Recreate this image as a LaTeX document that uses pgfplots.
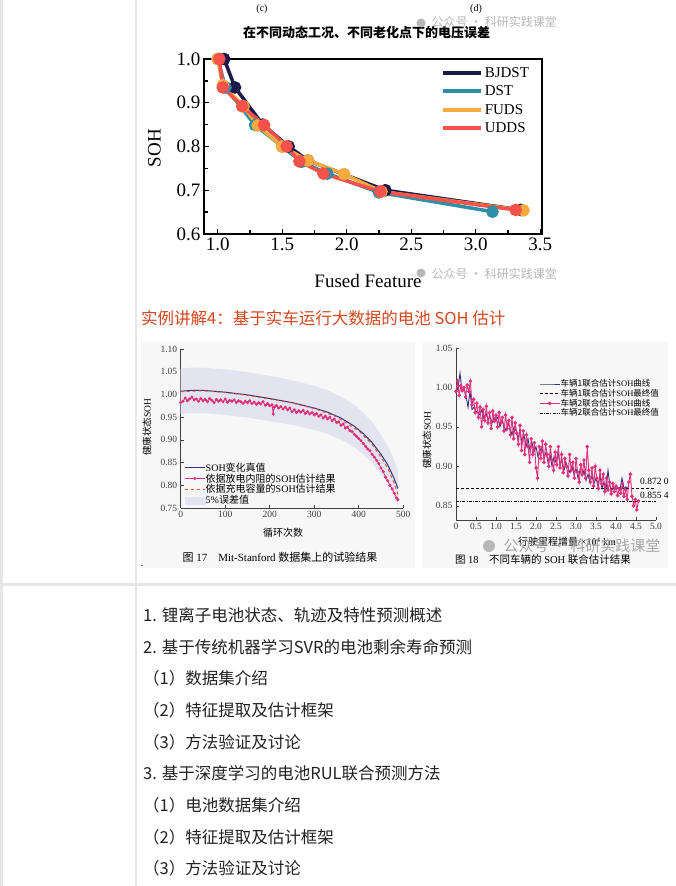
\documentclass[border=0pt]{standalone}
\usepackage{fontspec}
\setmainfont{Liberation Serif}
\newfontfamily\cjk{Noto Sans CJK SC}
\usepackage{pgfplots}
\pgfplotsset{compat=1.18}
\newcommand{\fs}[1]{\fontsize{#1}{#1}\selectfont}
\definecolor{bjdst}{HTML}{1D1A4A}
\definecolor{dst}{HTML}{2E8FA8}
\definecolor{fuds}{HTML}{F7AA3E}
\definecolor{udds}{HTML}{F4524B}
\definecolor{navyc}{HTML}{33337F}
\definecolor{pinkc}{HTML}{E0307A}
\definecolor{redd}{HTML}{E8553A}
\definecolor{bandc}{HTML}{E4E4F0}
\definecolor{tline}{HTML}{E6E6E6}
\definecolor{titlered}{HTML}{D4481F}
\definecolor{wmc}{HTML}{B8B8B8}
\definecolor{bodyc}{HTML}{222222}
\begin{document}
\begin{tikzpicture}[x=1pt,y=1pt]
\fill[white] (0,0) rectangle (676,-886);
\path[use as bounding box] (0,0) rectangle (676,-886);
% table lines
\fill[tline] (0,0) rectangle (2.5,-886);
\fill[tline] (134.5,0) rectangle (137,-886);
\fill[tline] (0,-582.5) rectangle (676,-585.5);
% image backgrounds
\fill[black!3] (141,-342) rectangle (415,-568);
\fill[black!3] (422,-342) rectangle (668,-568);
% top fragment
\node[font=\fs{10}] at (262,-9) {(c)};
\node[font=\fs{10}] at (476,-9) {(d)};
\node[font={\fs{13}\cjk\bfseries}] at (366.5,-33) {在不同动态工况、不同老化点下的电压误差};
% watermarks
\fill[wmc] (421,-23) circle (4.5);
\node[anchor=west, text=wmc, font={\fs{12}\cjk}] at (428,-22) {公众号 · 科研实践课堂};
\fill[wmc] (421,-273) circle (4.5);
\node[anchor=west, text=wmc, font={\fs{12}\cjk}] at (428,-274) {公众号 · 科研实践课堂};

% ---------------- Chart 1 ----------------
\begin{axis}[at={(204pt,-234pt)}, anchor=south west, scale only axis,
  width=338pt, height=175pt,
  xmin=0.894, xmax=3.514, ymin=0.6, ymax=1.0,
  xtick={1,1.5,2,2.5,3,3.5}, ytick={0.6,0.7,0.8,0.9,1.0},
  minor x tick num=1, minor y tick num=1,
  tick pos=left, tick align=inside,
  axis line style={line width=1.6pt},
  tick style={line width=1.3pt, black},
  major tick length=5pt, minor tick length=4pt,
  /pgf/number format/assume math mode=true,
  ticklabel style={font=\fs{19}, /pgf/number format/fixed, /pgf/number format/fixed zerofill, /pgf/number format/precision=1},
  legend style={at={(0.70,0.965)}, anchor=north west, draw=none, fill=none,
    font=\fs{15}, row sep=3pt, inner sep=0pt},
  legend cell align=left,
  legend image code/.code={\draw[#1, line width=4pt] (0pt,0pt) -- (38pt,0pt);},
]
\addplot[bjdst, line width=3.5pt, mark=*, mark size=4.5pt] coordinates {
(1.05,1.0) (1.134,0.935) (1.35,0.85) (1.55,0.80) (1.70,0.768) (2.30,0.70) (3.35,0.655)};
\addlegendentry{BJDST}
\addplot[dst, line width=3.5pt, mark=*, mark size=4.5pt] coordinates {
(1.0,1.0) (1.06,0.935) (1.29,0.849) (1.50,0.80) (1.65,0.765) (1.85,0.738) (2.25,0.695) (3.13,0.651)};
\addlegendentry{DST}
\addplot[fuds, line width=3.5pt, mark=*, mark size=4.5pt] coordinates {
(1.0,1.0) (1.04,0.94) (1.20,0.892) (1.31,0.848) (1.50,0.80) (1.70,0.768) (1.98,0.737) (2.27,0.697) (3.37,0.654)};
\addlegendentry{FUDS}
\addplot[udds, line width=3.5pt, mark=*, mark size=4.5pt] coordinates {
(1.013,1.0) (1.04,0.935) (1.19,0.892) (1.36,0.849) (1.535,0.80) (1.633,0.766) (1.82,0.738) (2.26,0.697) (3.31,0.655)};
\addlegendentry{UDDS}
\end{axis}
\node[rotate=90, font=\fs{19}] at (154.5,-148) {SOH};
\node[font=\fs{19}] at (368,-281) {Fused Feature};

% red heading
\node[anchor=west, text=titlered, font={\fs{16.5}\cjk}, inner sep=0] at (141,-318) {实例讲解4：基于实车运行大数据的电池 SOH 估计};

% ---------------- Chart 2 ----------------
\begin{axis}[at={(180.7pt,-508pt)}, anchor=south west, scale only axis,
  width=222.6pt, height=159pt,
  xmin=0, xmax=500, ymin=0.75, ymax=1.10,
  axis x line*=bottom, axis y line*=left,
  axis line style={line width=0.7pt, black!75},
  tick style={line width=0.6pt, black!75}, tick align=inside, major tick length=3pt,
  xtick={0,100,200,300,400,500},
  ytick={0.75,0.80,0.85,0.90,0.95,1.00,1.05,1.10},
  yticklabels={0.75,0.80,0.85,0.90,0.95,1.00,1.05,1.10},
  /pgf/number format/assume math mode=true,
  ticklabel style={font=\fs{9.5}, text=black!75},
  legend style={at={(0.015,0.29)}, anchor=north west, draw=none, fill=none,
    font=\fs{10}, row sep=0pt, inner sep=0pt, nodes={inner sep=0.5pt}},
  legend cell align=left,
  legend image code/.code={\draw[mark repeat=2, mark phase=2, #1] plot coordinates {(0pt,0pt) (10pt,0pt) (20pt,0pt)};},
]
\addplot[fill=bandc, draw=none, forget plot] coordinates {
(0,1.057) (25,1.059) (50,1.059) (75,1.057) (100,1.055) (150,1.049) (200,1.041) (250,1.031) (300,1.019) (330,1.009) (360,0.995) (390,0.977) (410,0.960) (430,0.939) (450,0.911) (465,0.887) (478,0.859) (488,0.833)
(488,0.753) (478,0.777) (465,0.803) (450,0.825) (430,0.849) (410,0.868) (390,0.884) (360,0.901) (330,0.913) (300,0.922) (250,0.933) (200,0.941) (150,0.949) (100,0.955) (75,0.957) (50,0.959) (25,0.959) (0,0.957)};
\addplot[navyc, line width=1pt, mark=none] coordinates {
(0,1.007) (25,1.009) (50,1.009) (75,1.007) (100,1.005) (150,0.999) (200,0.991) (250,0.982) (300,0.970) (330,0.961) (360,0.948) (390,0.930) (410,0.914) (430,0.894) (450,0.868) (465,0.845) (478,0.818) (488,0.793)};
\addlegendentry{SOH{\cjk 变化真值}}
\addplot[pinkc, line width=0.8pt, mark=*, mark size=1.1pt] coordinates {
(0,0.982) (5,0.985) (10,0.992) (15,0.986) (20,0.990) (25,0.994) (30,0.988) (35,0.990) (40,0.985) (45,0.991)
(50,0.986) (55,0.989) (60,0.984) (65,0.991) (70,0.987) (75,0.982) (80,0.989) (85,0.985) (90,0.988) (95,0.984)
(100,0.990) (105,0.983) (110,0.987) (115,0.985) (120,0.988) (125,0.982) (130,0.986) (135,0.984) (140,0.980) (145,0.985)
(150,0.982) (155,0.986) (160,0.980) (165,0.983) (170,0.978) (175,0.982) (180,0.979) (185,0.984) (190,0.976) (195,0.980)
(200,0.975) (205,0.977) (208,0.957) (210,0.972) (215,0.976) (220,0.970) (225,0.973) (230,0.968) (235,0.972) (240,0.966)
(245,0.970) (250,0.962) (255,0.966) (260,0.960) (265,0.964) (270,0.961) (275,0.965) (280,0.958) (285,0.962) (290,0.957)
(295,0.960) (300,0.955) (305,0.958) (310,0.952) (315,0.955) (320,0.948) (325,0.952) (330,0.946) (335,0.950) (340,0.942)
(345,0.946) (350,0.938) (355,0.940) (360,0.932) (365,0.935) (370,0.926) (375,0.928) (380,0.920) (385,0.918) (390,0.912)
(395,0.908) (400,0.903) (405,0.898) (410,0.892) (415,0.886) (420,0.880) (425,0.876) (430,0.868) (435,0.862) (440,0.855)
(445,0.848) (450,0.838) (455,0.830) (460,0.818) (465,0.810) (470,0.800) (475,0.792) (480,0.782) (485,0.772) (488,0.768)};
\addlegendentry{{\cjk 依据放电内阻的}SOH{\cjk 估计结果}}
\addplot[redd, line width=1pt, dashed, mark=none] coordinates {
(0,1.006) (50,1.008) (100,1.004) (150,0.998) (200,0.990) (250,0.981) (300,0.969) (350,0.951) (400,0.920) (430,0.890) (450,0.862) (465,0.838) (478,0.808) (488,0.780)};
\addlegendentry{{\cjk 依据充电容量的}SOH{\cjk 估计结果}}
\addlegendimage{legend image code/.code={\fill[bandc] (0pt,-3.5pt) rectangle (20pt,3.5pt);}}
\addlegendentry{5\%{\cjk 误差值}}
\end{axis}
\node[rotate=90, font=\fs{9.5}] at (147,-427) {{\cjk 健康状态}SOH};
\node[font={\fs{10}\cjk}] at (283,-533) {循环次数};
\node[font=\fs{11}] at (280,-557) {{\cjk 图} 17\quad Mit-Stanford {\cjk 数据集上的试验结果}};
\node[font=\fs{10}] at (142,-566) {.};

% ---------------- Chart 3 ----------------
\begin{axis}[at={(456pt,-520pt)}, anchor=south west, scale only axis,
  width=200pt, height=172pt, clip=false,
  xmin=0, xmax=5, ymin=0.832, ymax=1.05,
  axis x line*=bottom, axis y line*=left,
  axis line style={line width=0.7pt, black!75},
  tick style={line width=0.6pt, black!75}, tick align=inside, major tick length=3pt,
  xtick={0,0.5,1,1.5,2,2.5,3,3.5,4,4.5,5},
  xticklabels={0,0.5,1.0,1.5,2.0,2.5,3.0,3.5,4.0,4.5,5.0},
  ytick={0.85,0.90,0.95,1.00,1.05},
  yticklabels={0.85,0.90,0.95,1.00,1.05},
  /pgf/number format/assume math mode=true,
  ticklabel style={font=\fs{9.5}, text=black!75},
  legend style={at={(0.415,0.82)}, anchor=north west, draw=none, fill=none,
    font=\fs{8.5}, row sep=0pt, inner sep=0pt, nodes={inner sep=0.5pt}},
  legend cell align=left,
  legend image code/.code={\draw[mark repeat=2, mark phase=2, #1] plot coordinates {(0pt,0pt) (10pt,0pt) (20pt,0pt)};},
]
\addplot[navyc, line width=0.9pt, mark=none] coordinates {
(0.00,0.992) (0.05,1.000) (0.10,1.018) (0.15,0.995) (0.20,0.998) (0.25,0.990) (0.30,0.975) (0.35,0.995) (0.40,0.972) (0.45,0.975)
(0.50,0.970) (0.55,0.968) (0.60,0.965) (0.65,0.972) (0.70,0.960) (0.75,0.968) (0.80,0.958) (0.85,0.963) (0.90,0.955) (0.95,0.962)
(1.00,0.958) (1.05,0.963) (1.10,0.950) (1.15,0.958) (1.20,0.952) (1.25,0.945) (1.30,0.955) (1.35,0.948) (1.40,0.940) (1.45,0.950)
(1.50,0.945) (1.55,0.935) (1.60,0.945) (1.65,0.930) (1.70,0.940) (1.75,0.925) (1.80,0.935) (1.85,0.920) (1.90,0.930) (1.95,0.918)
(2.00,0.925) (2.05,0.912) (2.10,0.920) (2.15,0.925) (2.20,0.910) (2.25,0.918) (2.30,0.905) (2.35,0.915) (2.40,0.900) (2.45,0.912)
(2.50,0.905) (2.55,0.918) (2.60,0.902) (2.65,0.908) (2.70,0.895) (2.75,0.905) (2.80,0.898) (2.85,0.892) (2.90,0.900) (2.95,0.890)
(3.00,0.897) (3.05,0.885) (3.10,0.895) (3.15,0.888) (3.20,0.895) (3.25,0.882) (3.30,0.890) (3.35,0.880) (3.40,0.888) (3.45,0.878)
(3.50,0.885) (3.55,0.875) (3.60,0.888) (3.65,0.872) (3.70,0.880) (3.75,0.870) (3.80,0.895) (3.85,0.875) (3.90,0.870) (3.95,0.873)
(4.00,0.871) (4.05,0.873) (4.10,0.870) (4.15,0.885) (4.20,0.872) (4.25,0.874) (4.30,0.872)};
\addlegendentry{{\cjk 车辆1联合估计}SOH{\cjk 曲线}}
\addplot[black, line width=1pt, dash pattern=on 3pt off 2pt, mark=none] coordinates {(0,0.872) (5,0.872)};
\addlegendentry{{\cjk 车辆1联合估计}SOH{\cjk 最终值}}
\addplot[pinkc, line width=0.9pt, mark=*, mark size=1.3pt] coordinates {
(0.00,0.995) (0.04,1.008) (0.08,0.990) (0.12,1.002) (0.16,0.996) (0.20,1.000) (0.24,0.988) (0.28,1.003) (0.32,0.995) (0.36,1.008)
(0.40,0.978) (0.44,0.985) (0.48,0.968) (0.52,0.980) (0.56,0.962) (0.60,0.975) (0.64,0.950) (0.68,0.972) (0.72,0.958) (0.76,0.976)
(0.80,0.955) (0.84,0.968) (0.88,0.948) (0.92,0.970) (0.96,0.957) (1.00,0.965) (1.04,0.950) (1.08,0.968) (1.12,0.955) (1.16,0.962)
(1.20,0.945) (1.24,0.965) (1.28,0.948) (1.32,0.958) (1.36,0.940) (1.40,0.962) (1.44,0.935) (1.48,0.955) (1.52,0.942) (1.56,0.928)
(1.60,0.952) (1.64,0.920) (1.68,0.945) (1.72,0.915) (1.76,0.940) (1.80,0.925) (1.84,0.905) (1.88,0.935) (1.92,0.915) (1.96,0.930)
(2.00,0.898) (2.04,0.885) (2.08,0.925) (2.12,0.910) (2.16,0.932) (2.20,0.905) (2.24,0.928) (2.28,0.915) (2.32,0.900) (2.36,0.925)
(2.40,0.908) (2.44,0.895) (2.48,0.918) (2.52,0.902) (2.56,0.925) (2.60,0.898) (2.64,0.915) (2.68,0.892) (2.72,0.910) (2.76,0.900)
(2.80,0.888) (2.84,0.915) (2.88,0.895) (2.92,0.905) (2.96,0.885) (3.00,0.910) (3.04,0.893) (3.08,0.880) (3.12,0.902) (3.16,0.890)
(3.20,0.908) (3.24,0.885) (3.28,0.925) (3.32,0.895) (3.36,0.880) (3.40,0.898) (3.44,0.875) (3.48,0.900) (3.52,0.885) (3.56,0.872)
(3.60,0.895) (3.64,0.878) (3.68,0.890) (3.72,0.868) (3.76,0.885) (3.80,0.870) (3.84,0.880) (3.88,0.865) (3.92,0.878) (3.96,0.868)
(4.00,0.875) (4.04,0.863) (4.08,0.872) (4.12,0.866) (4.16,0.878) (4.20,0.862) (4.24,0.870) (4.28,0.858) (4.32,0.880) (4.36,0.890)
(4.40,0.862) (4.44,0.850) (4.48,0.858) (4.52,0.845) (4.56,0.856)};
\addlegendentry{{\cjk 车辆2联合估计}SOH{\cjk 曲线}}
\addplot[black, line width=1pt, dash pattern=on 3pt off 1.2pt on 1pt off 1.2pt, mark=none] coordinates {(0,0.8554) (5,0.8554)};
\addlegendentry{{\cjk 车辆2联合估计}SOH{\cjk 最终值}}
\node[anchor=west, font=\fs{9.5}, inner sep=0] at (axis cs:4.6,0.8805) {0.872 0};
\node[anchor=west, font=\fs{9.5}, inner sep=0] at (axis cs:4.6,0.8637) {0.855 4};
\end{axis}
\node[rotate=90, font=\fs{9.5}] at (427,-440) {{\cjk 健康状态}SOH};
\node[font=\fs{10}] at (567,-542) {{\cjk 行驶里程增量}/×10\textsuperscript{4} km};
\node[font=\fs{10.5}] at (543,-560) {{\cjk 图} 18\quad{\cjk 不同车辆的} SOH {\cjk 联合估计结果}};
\fill[wmc] (489,-546) circle (6);
\node[anchor=west, text=wmc!90!black, font={\fs{15}\cjk}] at (500,-546) {公众号 · 科研实践课堂};

% ---------------- List ----------------
\begin{scope}[every node/.style={anchor=west, inner sep=0, text=bodyc, font={\fs{16.5}\cjk}}]
\node at (143,-615) {1. 锂离子电池状态、轨迹及特性预测概述};
\node at (143,-647) {2. 基于传统机器学习SVR的电池剩余寿命预测};
\node at (143,-678) {（1）数据集介绍};
\node at (143,-710) {（2）特征提取及估计框架};
\node at (143,-742) {（3）方法验证及讨论};
\node at (143,-773) {3. 基于深度学习的电池RUL联合预测方法};
\node at (143,-805) {（1）电池数据集介绍};
\node at (143,-837) {（2）特征提取及估计框架};
\node at (143,-868) {（3）方法验证及讨论};
\end{scope}
\end{tikzpicture}
\end{document}
